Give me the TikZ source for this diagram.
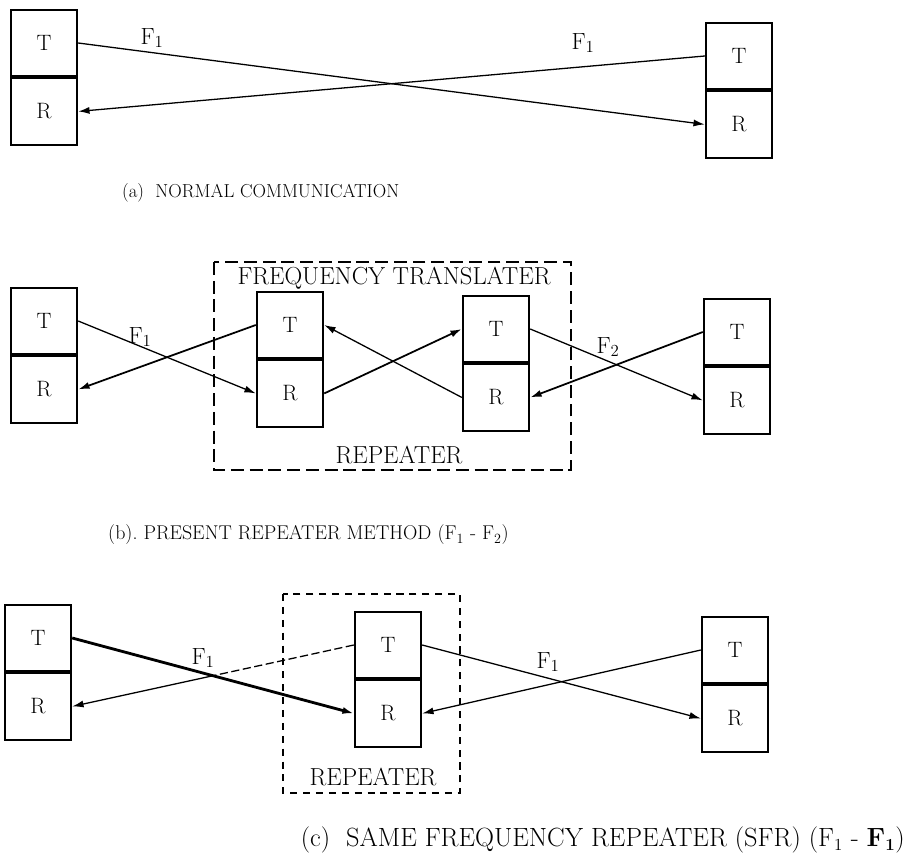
\documentclass[tikz,border=0pt]{standalone}
\usepackage{amsmath,amssymb}
\usepackage{tikz}
\usepackage{xcolor}
\usetikzlibrary{positioning,arrows.meta,calc}

\begin{document}
\begin{tikzpicture}[x=0.03cm,y=-0.03cm,
  half/.style={draw,line width=1.5pt,minimum width=2cm,minimum height=2cm,inner sep=0pt,font=\fontsize{19}{22}\selectfont},
  sig/.style={line width=1.1pt,-{Latex[length=3.4mm,width=2.1mm]}},
  lbl/.style={font=\fontsize{20}{24}\selectfont,inner sep=0pt}]
\useasboundingbox (0,0) rectangle (907,867);
% (a) normal communication
\node[half] (a1T) at (44,43) {T};
\node[half,below=0pt of a1T] (a1R) {R};
\node[half] (a2T) at (739,56) {T};
\node[half,below=0pt of a2T] (a2R) {R};
\draw[sig] (a1T.east)--(a2R.west);
\draw[sig] (a2T.west)--(a1R.east);
\node[lbl] (fa1) at (152,38) {F$_1$};
\node[lbl] (fa2) at (583,43) {F$_1$};
\node[lbl,anchor=west,font=\fontsize{16}{19}\selectfont] (capa) at (122,193) {(a)~~NORMAL COMMUNICATION};
% (b) present repeater method
\draw[line width=1.7pt,dash pattern=on 11pt off 5pt] (214,262) rectangle (571,470);
\node[lbl,font=\fontsize{21}{24}\selectfont] (ftr) at (394,278) {FREQUENCY TRANSLATER};
\node[lbl,font=\fontsize{21}{24}\selectfont] (repb) at (399,455) {REPEATER};
\node[half] (b1T) at (44,321) {T};
\node[half,below=0pt of b1T] (b1R) {R};
\node[half] (b2T) at (290,325) {T};
\node[half,below=0pt of b2T] (b2R) {R};
\node[half] (b3T) at (496,329) {T};
\node[half,below=0pt of b3T] (b3R) {R};
\node[half] (b4T) at (737,332) {T};
\node[half,below=0pt of b4T] (b4R) {R};
\draw[sig] (b1T.east)--(b2R.west);
\draw[sig,line width=1.5pt] (b2T.west)--(b1R.east);
\draw[sig,line width=1.5pt] (b2R.east)--(b3T.west);
\draw[sig] (b3R.west)--(b2T.east);
\draw[sig] (b3T.east)--(b4R.west);
\draw[sig,line width=1.5pt] (b4T.west)--(b3R.east);
\node[lbl] (fb1) at (140,337) {F$_1$};
\node[lbl] (fb2) at (608,347) {F$_2$};
\node[lbl,anchor=west,font=\fontsize{17}{20}\selectfont] (capb) at (108,535) {(b).~PRESENT REPEATER METHOD (F$_1$ - F$_2$)};
% (c) same frequency repeater
\draw[line width=1pt,dash pattern=on 6pt off 5pt] (283,594) rectangle (460,793);
\node[lbl,font=\fontsize{21}{24}\selectfont] (repc) at (373,777) {REPEATER};
\node[half] (c1T) at (38,638) {T};
\node[half,below=0pt of c1T] (c1R) {R};
\node[half] (c2T) at (388,645) {T};
\node[half,below=0pt of c2T] (c2R) {R};
\node[half] (c3T) at (735,650) {T};
\node[half,below=0pt of c3T] (c3R) {R};
\draw[sig,line width=2.4pt] (c1T.east)--(c2R.west);
\coordinate (cx) at ($(c2T.west)!0.5!(c1R.east)$);
\draw[line width=1.1pt,dash pattern=on 7pt off 3pt] (c2T.west)--(cx);
\draw[sig] (cx)--(c1R.east);
\draw[sig] (c2T.east)--(c3R.west);
\draw[sig] (c3T.west)--(c2R.east);
\node[lbl] (fc1) at (203,658) {F$_1$};
\node[lbl] (fc2) at (548,662) {F$_1$};
\node[lbl,anchor=east,font=\fontsize{22.5}{26}\selectfont] (capc) at (905,840) {(c)~~SAME FREQUENCY REPEATER (SFR) (F$_1$ - \textbf{F}$_{\mathbf{1}}$)};
\end{tikzpicture}
\end{document}
